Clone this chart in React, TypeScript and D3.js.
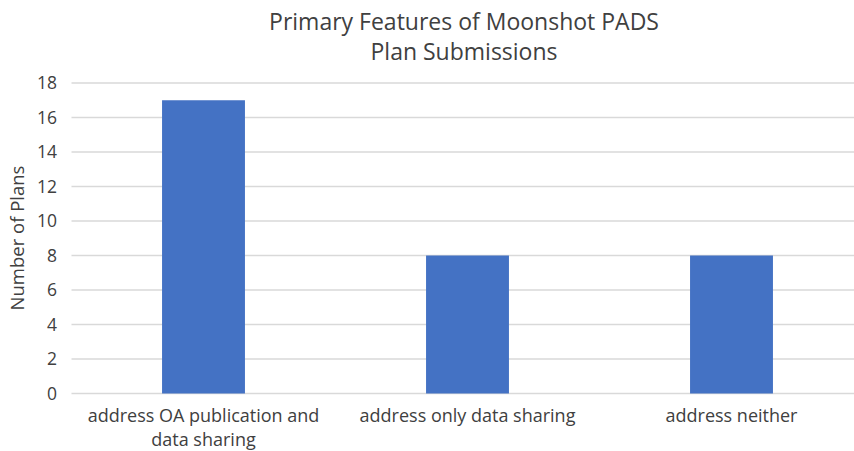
import React, { useEffect, useRef } from "react";
import * as d3 from "d3";

const categories = [
  ["address OA publication and", "data sharing"],
  ["address only data sharing"],
  ["address neither"],
];
const values = [17, 8, 8];
const yTicks = [0, 2, 4, 6, 8, 10, 12, 14, 16, 18];
const titleLines = ["Primary Features of Moonshot PADS", "Plan Submissions"];
const yLabel = "Number of Plans";

const W = 854;
const H = 451;
const FONT = "'Open Sans', 'Noto Sans', sans-serif";

const App = () => {
  const ref = useRef<SVGSVGElement>(null);

  useEffect(() => {
    const svg = d3.select(ref.current);
    svg.selectAll("*").remove();

    const left = 71.5;
    const right = 863.5;
    const top = 83;
    const bottom = 393.5;

    const keys = categories.map((c, i) => String(i));
    const x = d3
      .scaleBand()
      .domain(keys)
      .range([left, right])
      .paddingInner(0.686)
      .paddingOuter(0.343);
    const y = d3.scaleLinear().domain([0, 18]).range([bottom, top]);

    // gridlines
    svg
      .append("g")
      .selectAll("line")
      .data(yTicks)
      .join("line")
      .attr("x1", left)
      .attr("x2", right)
      .attr("y1", (d) => y(d))
      .attr("y2", (d) => y(d))
      .attr("stroke", "#d9d9d9")
      .attr("stroke-width", 1.3);

    // tick labels
    svg
      .append("g")
      .selectAll("text")
      .data(yTicks)
      .join("text")
      .attr("x", 57)
      .attr("y", (d) => y(d))
      .attr("dy", "0.36em")
      .attr("text-anchor", "end")
      .attr("font-family", FONT)
      .attr("font-size", 17.5)
      .attr("fill", "#404040")
      .text((d) => d);

    // bars
    svg
      .append("g")
      .selectAll("rect")
      .data(values)
      .join("rect")
      .attr("x", (d, i) => x(keys[i])!)
      .attr("width", x.bandwidth())
      .attr("y", (d) => y(d))
      .attr("height", (d) => y(0) - y(d))
      .attr("fill", "#4472c4");

    // category labels
    const cat = svg
      .append("g")
      .selectAll("text")
      .data(categories)
      .join("text")
      .attr("text-anchor", "middle")
      .attr("font-family", FONT)
      .attr("font-size", 18)
      .attr("fill", "#404040");
    cat
      .selectAll("tspan")
      .data((d, i) => d.map((t) => ({ t, i })))
      .join("tspan")
      .attr("x", (d) => x(keys[d.i])! + x.bandwidth() / 2)
      .attr("y", (d, j) => 422 + j * 24)
      .text((d) => d.t);

    // title
    svg
      .append("g")
      .selectAll("text")
      .data(titleLines)
      .join("text")
      .attr("x", 464)
      .attr("y", (d, i) => 30 + i * 30)
      .attr("text-anchor", "middle")
      .attr("font-family", FONT)
      .attr("font-size", 23)
      .attr("fill", "#404040")
      .text((d) => d);

    // y axis label
    svg
      .append("text")
      .attr("transform", `translate(24, 238) rotate(-90)`)
      .attr("text-anchor", "middle")
      .attr("font-family", FONT)
      .attr("font-size", 18.5)
      .attr("fill", "#404040")
      .text(yLabel);
  }, []);

  return (
    <svg
      ref={ref}
      width={W}
      height={H}
      style={{ position: "absolute", left: 0, top: 0, background: "#fff" }}
    />
  );
};

export default App;
